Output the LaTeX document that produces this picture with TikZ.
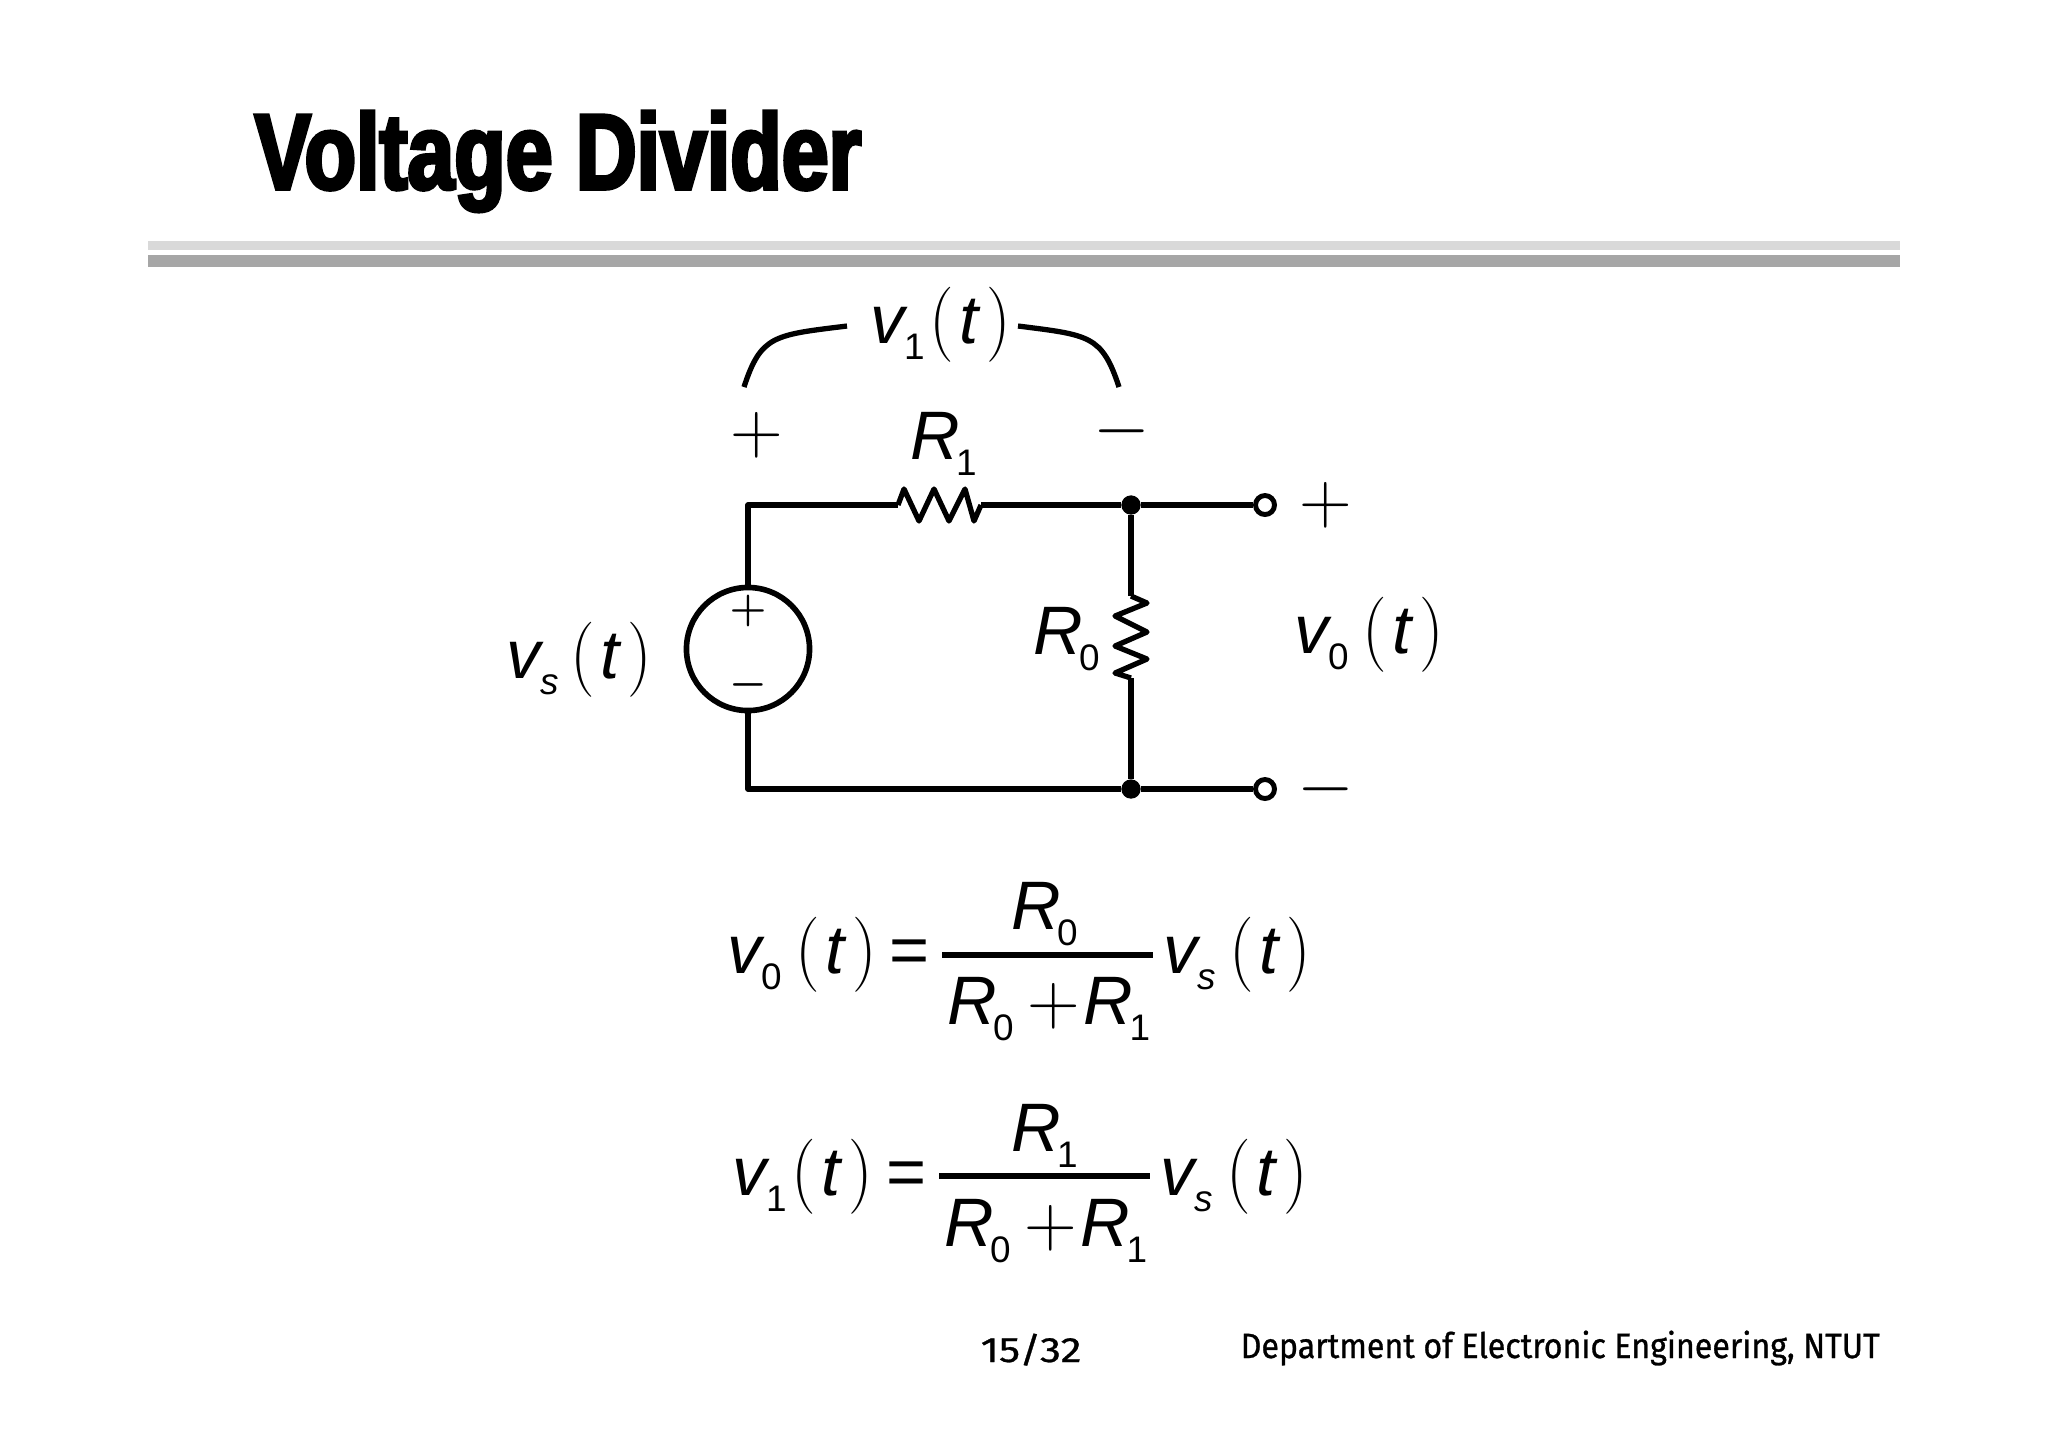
\documentclass[tikz,border=0pt]{standalone}
\usepackage{fontspec}
\setmainfont{Liberation Sans}
\newfontfamily\titlefont[FakeBold=3.4,FakeStretch=0.785]{Liberation Sans Bold}
\newfontfamily\footfont[FakeBold=0.8,FakeStretch=0.915]{Fira Sans}
\newfontfamily\pagefont[FakeBold=0.8,FakeStretch=1.2]{Fira Sans}
\usepackage{tikz}
\usetikzlibrary{positioning}

% letter with a lowered index
\newcommand{\sym}[2]{\textit{#1}\kern-1pt\raisebox{-4.8pt}{\fontsize{10.5}{10}\selectfont #2}}
\newcommand{\targ}{\scalebox{0.95}[1.03]{$\bigg($}\kern1.5pt\textit{t}\kern1.5pt\scalebox{0.95}[1.03]{$\bigg)$}}

\tikzset{
  wire/.style={black, line width=1.5pt, line join=round},
  label/.style={inner sep=0pt, outer sep=0pt, anchor=base west, yshift=-0.03cm, font=\fontsize{19.5}{22}\selectfont},
  sign/.style={inner sep=0pt, outer sep=0pt, font=\fontsize{20.5}{24}\selectfont},
  smallsign/.style={inner sep=0pt, outer sep=0pt, font=\fontsize{12}{14}\selectfont\boldmath},
  junction/.style={circle, fill=black, inner sep=0pt, minimum size=5.5pt},
  terminal/.style={circle, draw=black, fill=white, line width=1.4pt, inner sep=0pt, minimum size=5.4pt},
  source/.style={circle, draw=black, line width=1.6pt, inner sep=0pt, minimum size=35pt},
}

\begin{document}
\begin{tikzpicture}[x=0.01cm,y=-0.01cm]
\useasboundingbox (0,0) rectangle (2048,1447);

% title and rules
\node[inner sep=0pt, anchor=base west, font=\fontsize{30.5}{34}\selectfont\titlefont] (title) at (254,189) {Voltage Divider};
\fill[gray!30] (148,241) rectangle (1900,250);
\fill[gray!70] (148,255) rectangle (1900,267);

% circuit
\node[source] (vs) at (748,649) {};
\node[smallsign] (vsplus) at (748,611) {$+$};
\node[smallsign] (vsminus) at (748,685) {$-$};
\node[junction] (jtop) at (1131,505) {};
\node[junction] (jbot) at (1131,789) {};
\node[terminal] (ttop) at (1265,505) {};
\node[terminal] (tbot) at (1265,789) {};
\coordinate (r1a) at (898,505);
\coordinate (r1b) at (981,505);
\coordinate (r0a) at (1131,596);
\coordinate (r0b) at (1131,678);

\draw[wire] (vs.north) |- (r1a);
\draw[wire] (r1a)--++(6,-16)--++(15,32)--++(15,-32)--++(15,32)--++(16,-32)--++(9,32)--(r1b);
\draw[wire] (r1b) -- (jtop) -- (ttop);
\draw[wire] (jtop) -- (r0a);
\draw[wire] (r0a)--++(16,7)--++(-32,13)--++(32,16)--++(-32,14)--++(32,13)--++(-32,14)--(r0b);
\draw[wire] (r0b) -- (jbot);
\draw[wire] (vs.south) |- (jbot) -- (tbot);

% brace over R1
\coordinate (bla) at (744,387);
\coordinate (blb) at (847,326);
\coordinate (bra) at (1119,387);
\coordinate (brb) at (1018,326);
\draw[wire] (bla) .. controls (761,335) and (774,335) .. (blb);
\draw[wire] (bra) .. controls (1102,335) and (1089,335) .. (brb);

% circuit labels
\node[sign] (plusa) at (757,435) {$+$};
\node[sign] (minusa) at (1122,431) {$-$};
\node[sign] (plusb) at (1326,505) {$+$};
\node[sign] (minusb) at (1326,789) {$-$};
\node[label] (vone) at (870,340) {\sym{v}{1}\kern1.5pt\targ};
\node[label] (rone) at (910,456) {\sym{R}{1}};
\node[label] (rzero) at (1033,651) {\sym{R}{0}};
\node[label] (vsrc) at (506,675) {\sym{v}{\textit{s}}\kern3.5pt\targ};
\node[label] (vzero) at (1294,650) {\sym{v}{0}\kern4pt\targ};

% first equation
\node[label] (lhsa) at (727,970) {\sym{v}{0}\kern4pt\targ};
\node[label] (eqa) at (889,970) {=};
\coordinate (bara) at (942,955);
\coordinate (barb) at (1153,955);
\draw[wire] (bara) -- (barb);
\node[label] (numa) at (1011,926) {\sym{R}{0}};
\node[label] (dena) at (947,1021) {\sym{R}{0}\kern4pt{$+$}\kern1pt\sym{R}{1}};
\node[label] (rhsa) at (1163,970) {\sym{v}{\textit{s}}\kern4pt\targ};

% second equation
\node[label] (lhsb) at (732,1192) {\sym{v}{1}\kern1.5pt\targ};
\node[label] (eqb) at (886,1192) {=};
\coordinate (barc) at (939,1176);
\coordinate (bard) at (1150,1176);
\draw[wire] (barc) -- (bard);
\node[label] (numb) at (1011,1148) {\sym{R}{1}};
\node[label] (denb) at (944,1243) {\sym{R}{0}\kern4pt{$+$}\kern1pt\sym{R}{1}};
\node[label] (rhsb) at (1160,1192) {\sym{v}{\textit{s}}\kern4pt\targ};

% footer
\node[inner sep=0pt, anchor=base west, font=\fontsize{10}{12}\selectfont\pagefont] (page) at (980,1362) {15/32};
\node[inner sep=0pt, anchor=base west, font=\fontsize{10}{12}\selectfont\footfont] (dept) at (1240,1358) {Department of Electronic Engineering, NTUT};
\end{tikzpicture}
\end{document}
